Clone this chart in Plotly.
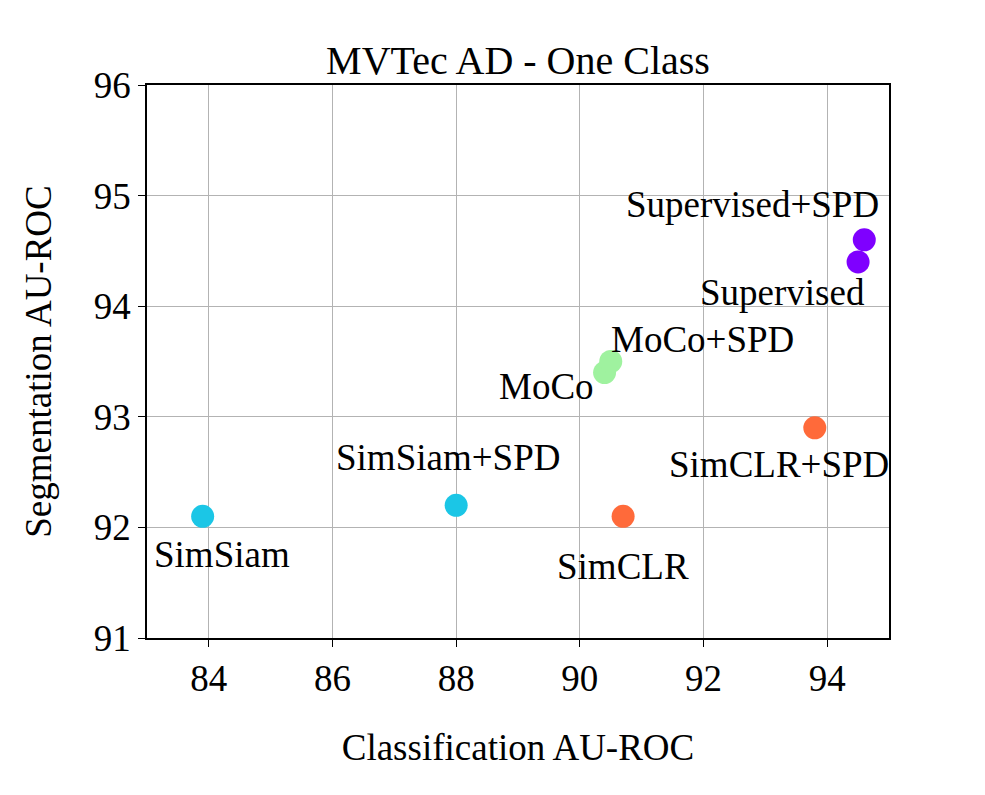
import plotly.graph_objects as go

# data
methods = ['SimSiam', 'SimSiam+SPD', 'SimCLR', 'SimCLR+SPD',
           'MoCo', 'MoCo+SPD', 'Supervised', 'Supervised+SPD']
cls_auroc = [83.9, 88.0, 90.7, 93.8, 90.4, 90.5, 94.5, 94.6]
seg_auroc = [92.1, 92.2, 92.1, 92.9, 93.4, 93.5, 94.4, 94.6]

colors = ['#1bc6e6', '#1bc6e6', '#ff6a3a', '#ff6a3a',
          '#9ff29f', '#9ff29f', '#7f00ff', '#7f00ff']
# label offsets from the point, in pixels
label_shift = [(19, -38), (-8, 48), (0, -50), (-36, -37),
               (-58, -14), (92, 22), (-76, -31), (-112, 35)]

FONT = 'Liberation Serif, Times New Roman, serif'

fig = go.Figure()
fig.add_trace(go.Scatter(x=cls_auroc, y=seg_auroc, mode='markers',
                         marker=dict(size=23, color=colors, line=dict(width=0)),
                         showlegend=False, hoverinfo='text', text=methods))

for name, x, y, (dx, dy) in zip(methods, cls_auroc, seg_auroc, label_shift):
    fig.add_annotation(x=x, y=y, text=name, showarrow=False,
                       xshift=dx, yshift=dy,
                       font=dict(family=FONT, size=37, color='black'))

axis_style = dict(showline=True, linecolor='black', linewidth=1.5, mirror=True,
                  ticks='outside', ticklen=7, tickwidth=1.2, tickcolor='black',
                  showgrid=True, gridcolor='#b3b3b3', gridwidth=1,
                  zeroline=False,
                  tickfont=dict(family=FONT, size=37, color='black'))

fig.update_xaxes(range=[83, 95], tickvals=[84, 86, 88, 90, 92, 94],
                 title=dict(text='Classification AU-ROC', standoff=36,
                            font=dict(family=FONT, size=37, color='black')),
                 **axis_style)
fig.update_yaxes(range=[91, 96], tickvals=[91, 92, 93, 94, 95, 96],
                 title=dict(text='Segmentation AU-ROC', standoff=31,
                            font=dict(family=FONT, size=37, color='black')),
                 **axis_style)

fig.update_layout(
    width=985, height=795,
    margin=dict(l=139, r=104, t=77, b=165),
    plot_bgcolor='white', paper_bgcolor='white',
    title=dict(text='MVTec AD - One Class', x=(139 + 371) / 985, xanchor='center',
               y=1 - 52/795, yanchor='middle', yref='container',
               font=dict(family=FONT, size=40, color='black')),
)

fig.write_html("out.html")
